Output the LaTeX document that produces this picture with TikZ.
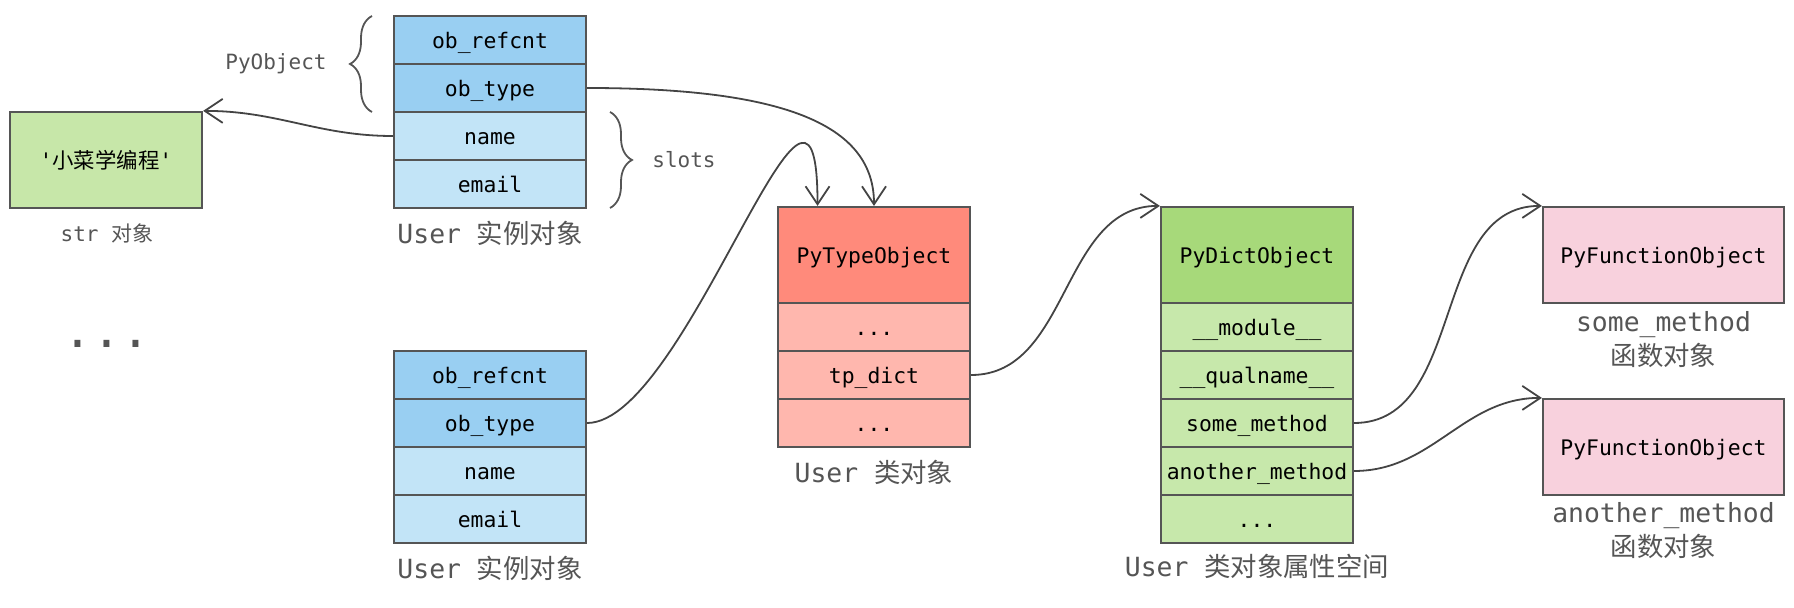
\documentclass[tikz,border=0pt]{standalone}
\usepackage{fontspec}
\setmonofont{DejaVu Sans Mono}
\newfontfamily\cjk{Noto Sans CJK SC}
\usetikzlibrary{arrows.meta,decorations.pathreplacing}

\definecolor{instdark}{HTML}{99CFF2}
\definecolor{instlight}{HTML}{C2E4F7}
\definecolor{strgreen}{HTML}{C7E7A9}
\definecolor{typedark}{HTML}{FF8A7B}
\definecolor{typelight}{HTML}{FFB7AE}
\definecolor{dictdark}{HTML}{A7D97A}
\definecolor{dictlight}{HTML}{C7E8AB}
\definecolor{fnpink}{HTML}{F8D1DD}
\definecolor{linegray}{HTML}{555555}
\definecolor{textgray}{HTML}{555555}
\definecolor{arrowgray}{HTML}{444444}
\newcommand{\fielddots}{...}

\begin{document}
\begin{tikzpicture}
[x=0.5pt,y=-0.5pt,
  fielddecorate/.style={shape=rectangle,draw=linegray,line width=1.1pt,
    minimum width=96pt,minimum height=24pt,inner sep=0pt,text=black,
    text height=0.88em,text depth=0em,
    font=\fontsize{10.7}{12}\selectfont\ttfamily},
  headdecorate/.style={fielddecorate,minimum height=48pt},
  linedecorate/.style={draw=arrowgray,line width=0.9pt,
    -{Straight Barb[length=9pt,width=12pt]}},
  bracedecorate/.style={draw=linegray,line width=0.9pt,decorate,
    decoration={brace,amplitude=11pt}},
  labeldecorate/.style={text=textgray,align=center,
    font=\fontsize{13.2}{17}\selectfont\ttfamily},
  smalldecorate/.style={text=textgray,
    font=\fontsize{10.5}{12}\selectfont\ttfamily}]
\useasboundingbox (0,0) rectangle (1794,608);

%% str object
\node (str) at (106,160) [headdecorate,fill=strgreen]
  {'{\cjk 小菜学编程}'};
\node [smalldecorate] at (107,233) {str {\cjk 对象}};
\node [text=textgray,font=\fontsize{24}{24}\selectfont\ttfamily]
  at (107,344) {\fielddots};

%% instance objects
\foreach \inst/\ystart in {a/40, b/375}
{
  \node (\inst refcnt) at (490,\ystart) [fielddecorate,fill=instdark] {ob\_refcnt};
  \node (\inst type) at (490,\ystart+48) [fielddecorate,fill=instdark] {ob\_type};
  \node (\inst name) at (490,\ystart+96) [fielddecorate,fill=instlight] {name};
  \node (\inst email) at (490,\ystart+144) [fielddecorate,fill=instlight] {email};
  \node [labeldecorate] at (490,\ystart+193) {User {\cjk 实例对象}};
}
\draw [bracedecorate] (372,112) -- (372,16);
\node [smalldecorate] at (276,64) {PyObject};
\draw [bracedecorate] (610,112) -- (610,208);
\node [smalldecorate] at (684,160) {slots};

%% type object
\node (typehead) at (874,255) [headdecorate,fill=typedark] {PyTypeObject};
\foreach \nodename/\y/\field in {
  typedotsa/327/\fielddots, typedict/375/tp\_dict, typedotsb/423/\fielddots}
{
  \node (\nodename) at (874,\y) [fielddecorate,fill=typelight] {\field};
}
\node [labeldecorate] at (874,472) {User {\cjk 类对象}};

%% dict object
\node (dicthead) at (1257,255) [headdecorate,fill=dictdark] {PyDictObject};
\foreach \nodename/\y/\field in {
  dictmodule/327/\_\_module\_\_, dictqual/375/\_\_qualname\_\_,
  dictsome/423/some\_method, dictanother/471/another\_method,
  dictdots/519/\fielddots}
{
  \node (\nodename) at (1257,\y) [fielddecorate,fill=dictlight] {\field};
}
\node [labeldecorate] at (1257,566) {User {\cjk 类对象属性空间}};

%% function objects
\node (fna) at (1663.5,255) [headdecorate,minimum width=120.5pt,fill=fnpink]
  {PyFunctionObject};
\node [labeldecorate] at (1663.5,340) {some\_method\\{\cjk 函数对象}};
\node (fnb) at (1663.5,447) [headdecorate,minimum width=120.5pt,fill=fnpink]
  {PyFunctionObject};
\node [labeldecorate] at (1663.5,531) {another\_method\\{\cjk 函数对象}};

%% references
\draw [linedecorate] (aname.west) to[out=180,in=0] (str.north east);
\draw [linedecorate] (atype.east) .. controls +(200,0) and +(0,-80) .. (typehead.north);
\draw [linedecorate] (btype.east) .. controls +(100,0) and +(0,-220) .. (typehead.139);
\draw [linedecorate] (typedict.east) to[out=0,in=180] (dicthead.north west);
\draw [linedecorate] (dictsome.east) to[out=0,in=180] (fna.north west);
\draw [linedecorate] (dictanother.east) to[out=0,in=180] (fnb.north west);
\end{tikzpicture}
\end{document}
